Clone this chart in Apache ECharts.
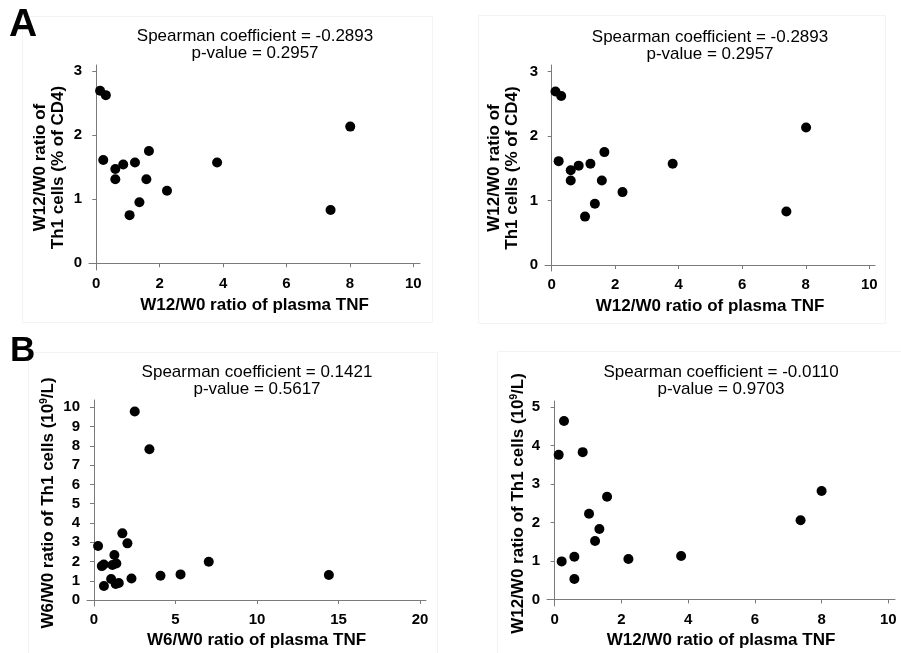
<!DOCTYPE html>
<html>
<head>
<meta charset="utf-8">
<script src="https://cdn.jsdelivr.net/npm/echarts@6/dist/echarts.min.js"></script>
<style>
  html, body { margin: 0; padding: 0; background: #fff; }
  #main { width: 901px; height: 653px; }
</style>
</head>
<body>
<div id="main"></div>
<script>
// panel A: W12/W0 ratio of plasma TNF vs W12/W0 ratio of Th1 (% of CD4)
const tnfW12A = [0.12, 0.30, 0.22, 0.60, 0.60, 0.85, 1.22, 1.66, 1.58, 1.05, 1.36, 2.23, 3.81, 7.39, 8.01];
const th1PctW12 = [2.69, 2.62, 1.61, 1.47, 1.31, 1.54, 1.57, 1.75, 1.31, 0.75, 0.95, 1.13, 1.57, 0.83, 2.13];

// panel B left: W6/W0 ratios
const tnfW6 = [0.25, 0.48, 0.60, 0.61, 1.05, 1.13, 1.25, 1.37, 1.33, 1.52, 1.74, 2.05, 2.30, 2.50, 3.40, 4.08, 5.31, 7.04, 14.41];
const th1CountW6 = [2.80, 1.76, 1.84, 0.73, 1.09, 1.82, 2.34, 1.90, 0.83, 0.88, 3.46, 2.94, 1.12, 9.78, 7.82, 1.26, 1.33, 1.99, 1.30];

// panel B right: W12/W0 ratios
const tnfW12B = [0.12, 0.28, 0.21, 0.59, 0.59, 0.84, 1.03, 1.21, 1.34, 1.57, 2.21, 3.79, 7.37, 8.00];
const th1CountW12 = [3.76, 4.64, 0.99, 1.11, 0.53, 3.83, 2.23, 1.52, 1.83, 2.67, 1.05, 1.13, 2.06, 2.82];

// tick labels
const ticksX10 = [0, 2, 4, 6, 8, 10];
const ticksX20 = [0, 5, 10, 15, 20];
const ticksY3 = [0, 1, 2, 3];
const ticksY10 = [0, 1, 2, 3, 4, 5, 6, 7, 8, 9, 10];
const ticksY5 = [0, 1, 2, 3, 4, 5];

const titleA = 'Spearman coefficient = -0.2893\np-value = 0.2957';
const titleB1 = 'Spearman coefficient = 0.1421\np-value = 0.5617';
const titleB2 = 'Spearman coefficient = -0.0110\np-value = 0.9703';

const FONT = '"Liberation Sans", Arial, sans-serif';
const AXIS_COLOR = '#7a7a7a';
const FRAME_COLOR = '#f3f3f3';

function zip(xs, ys) {
  return xs.map((x, i) => [x, ys[i]]);
}

function xAxis(idx, min, max, ticks, name, gap) {
  return {
    type: 'value', gridIndex: idx, min: min, max: max,
    name: name, nameLocation: 'middle', nameGap: gap,
    nameTextStyle: { fontFamily: FONT, fontSize: 17, fontWeight: 'bold', color: '#000' },
    axisLine: { show: true, lineStyle: { color: AXIS_COLOR, width: 1 } },
    axisTick: { show: true, length: 4, customValues: ticks, lineStyle: { color: AXIS_COLOR } },
    axisLabel: { customValues: ticks, margin: 6, fontFamily: FONT, fontSize: 15, fontWeight: 'bold', color: '#000' },
    splitLine: { show: false }
  };
}

function yAxis(idx, min, max, ticks, name, gap, rich) {
  return {
    type: 'value', gridIndex: idx, min: min, max: max,
    name: name, nameLocation: 'middle', nameGap: gap, nameRotate: 90,
    nameTextStyle: {
      fontFamily: FONT, fontSize: 17, fontWeight: 'bold', color: '#000', lineHeight: 18,
      rich: rich || undefined
    },
    axisLine: { show: true, lineStyle: { color: AXIS_COLOR, width: 1 } },
    axisTick: { show: true, length: 4, customValues: ticks, lineStyle: { color: AXIS_COLOR } },
    axisLabel: { customValues: ticks, margin: 7, fontFamily: FONT, fontSize: 15, fontWeight: 'bold', color: '#000' },
    splitLine: { show: false }
  };
}

function title(text, cx, top) {
  return {
    text: text, left: cx, top: top, textAlign: 'center', padding: 0,
    textStyle: { fontFamily: FONT, fontSize: 17, fontWeight: 'normal', color: '#000', lineHeight: 17 }
  };
}

function scatter(idx, data) {
  return {
    type: 'scatter', xAxisIndex: idx, yAxisIndex: idx, data: data,
    symbol: 'circle', symbolSize: 10, itemStyle: { color: '#000', opacity: 1 },
    silent: true
  };
}

function frame(x, y, w, h) {
  return { type: 'rect', shape: { x: x, y: y, width: w, height: h }, style: { fill: null, stroke: FRAME_COLOR, lineWidth: 1 }, silent: true, z: -1 };
}

const supRich = {
  sup: { fontFamily: FONT, fontSize: 10, fontWeight: 'bold', color: '#000', verticalAlign: 'top', lineHeight: 18 }
};

const myChart = echarts.init(document.getElementById('main'), null, { renderer: 'canvas' });
const option = {
  backgroundColor: '#fff',
  animation: false,
  title: [
    title(titleA, 255, 28),
    title(titleA, 710, 29),
    title(titleB1, 257, 364),
    title(titleB2, 721, 364)
  ],
  graphic: [
    frame(22.5, 16.5, 410, 306),
    frame(478.5, 15.5, 407, 308),
    frame(28.5, 352.5, 409, 310),
    frame(497.5, 351.5, 410, 310),
    { type: 'text', left: 9, top: 6, style: { text: 'A', fontFamily: FONT, fontSize: 39, fontWeight: 'bold', fill: '#000' } },
    { type: 'text', left: 10, top: 334, style: { text: 'B', fontFamily: FONT, fontSize: 35, fontWeight: 'bold', fill: '#000' } }
  ],
  grid: [
    { left: 89, top: 65, width: 331, height: 205 },
    { left: 545, top: 65, width: 330, height: 206 },
    { left: 87, top: 400, width: 339, height: 206 },
    { left: 547, top: 401, width: 348, height: 205 }
  ],
  xAxis: [
    xAxis(0, -0.23, 10.21, ticksX10, 'W12/W0 ratio of plasma TNF', 27),
    xAxis(1, -0.21, 10.18, ticksX10, 'W12/W0 ratio of plasma TNF', 27),
    xAxis(2, -0.43, 20.37, ticksX20, 'W6/W0 ratio of plasma TNF', 26),
    xAxis(3, -0.23, 10.2, ticksX10, 'W12/W0 ratio of plasma TNF', 26)
  ],
  yAxis: [
    yAxis(0, -0.105, 3.09, ticksY3, 'W12/W0 ratio of\nTh1 cells (% of CD4)', 22),
    yAxis(1, -0.093, 3.10, ticksY3, 'W12/W0 ratio of\nTh1 cells (% of CD4)', 24),
    yAxis(2, -0.31, 10.38, ticksY10, 'W6/W0 ratio of Th1 cells (10{sup|9}/L)', 30, supRich),
    yAxis(3, -0.17, 5.16, ticksY5, 'W12/W0 ratio of Th1 cells (10{sup|9}/L)', 20, supRich)
  ],
  series: [
    scatter(0, zip(tnfW12A, th1PctW12)),
    scatter(1, zip(tnfW12A, th1PctW12)),
    scatter(2, zip(tnfW6, th1CountW6)),
    scatter(3, zip(tnfW12B, th1CountW12))
  ]
};
myChart.setOption(option);
</script>
</body>
</html>
